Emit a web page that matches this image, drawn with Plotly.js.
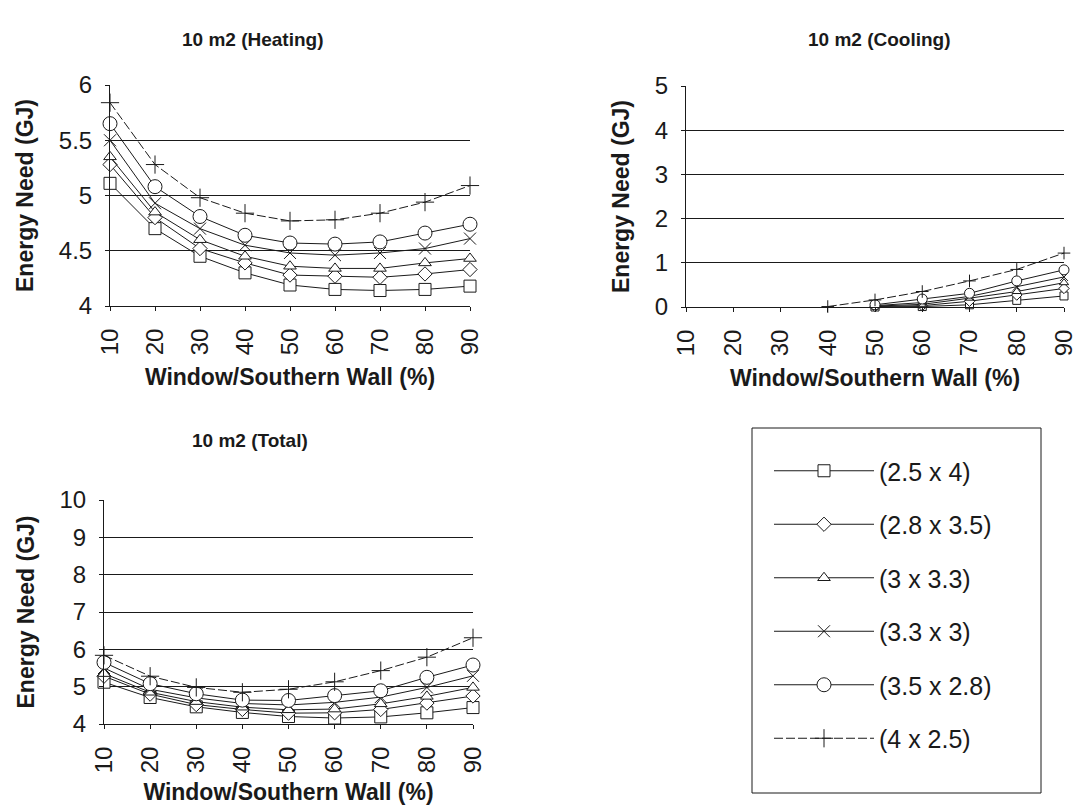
<!DOCTYPE html>
<html>
<head>
<meta charset="utf-8">
<script src="https://cdn.plot.ly/plotly-3.0.1.min.js"></script>
<style>html,body{margin:0;padding:0;background:#fff;}#chart{width:1082px;height:805px;}</style>
</head>
<body>
<div id="chart"></div>
<script>
// ---- data ----
const ratio = [10, 20, 30, 40, 50, 60, 70, 80, 90];
const seriesNames = ["(2.5 x 4)", "(2.8 x 3.5)", "(3 x 3.3)", "(3.3 x 3)", "(3.5 x 2.8)", "(4 x 2.5)"];

const heating_2_5x4 = [5.11, 4.70, 4.45, 4.30, 4.19, 4.15, 4.14, 4.15, 4.18];
const heating_2_8x3_5 = [5.28, 4.80, 4.52, 4.39, 4.28, 4.27, 4.26, 4.29, 4.33];
const heating_3x3_3 = [5.35, 4.85, 4.60, 4.45, 4.36, 4.34, 4.34, 4.39, 4.43];
const heating_3_3x3 = [5.50, 4.93, 4.70, 4.55, 4.48, 4.46, 4.48, 4.52, 4.61];
const heating_3_5x2_8 = [5.65, 5.08, 4.81, 4.64, 4.57, 4.56, 4.58, 4.66, 4.74];
const heating_4x2_5 = [5.84, 5.28, 4.98, 4.84, 4.77, 4.78, 4.84, 4.94, 5.09];

const cooling_2_5x4 = [null, null, null, null, 0, 0.01, 0.05, 0.15, 0.25];
const cooling_2_8x3_5 = [null, null, null, null, 0.01, 0.03, 0.13, 0.27, 0.42];
const cooling_3x3_3 = [null, null, null, null, 0.02, 0.06, 0.20, 0.35, 0.55];
const cooling_3_3x3 = [null, null, null, null, 0.03, 0.10, 0.24, 0.46, 0.68];
const cooling_3_5x2_8 = [null, null, null, null, 0.05, 0.18, 0.31, 0.59, 0.84];
const cooling_4x2_5 = [null, null, null, 0.01, 0.16, 0.35, 0.59, 0.85, 1.22];

const total_2_5x4 = [5.12, 4.71, 4.46, 4.31, 4.20, 4.16, 4.19, 4.30, 4.44];
const total_2_8x3_5 = [5.28, 4.80, 4.52, 4.39, 4.29, 4.30, 4.39, 4.56, 4.75];
const total_3x3_3 = [5.35, 4.85, 4.60, 4.45, 4.38, 4.40, 4.54, 4.74, 4.98];
const total_3_3x3 = [5.50, 4.93, 4.70, 4.55, 4.51, 4.58, 4.72, 4.98, 5.29];
const total_3_5x2_8 = [5.65, 5.08, 4.81, 4.64, 4.63, 4.76, 4.89, 5.25, 5.58];
const total_4x2_5 = [5.84, 5.28, 4.98, 4.85, 4.93, 5.13, 5.43, 5.79, 6.31];

const heatingSeries = [heating_2_5x4, heating_2_8x3_5, heating_3x3_3, heating_3_3x3, heating_3_5x2_8, heating_4x2_5];
const coolingSeries = [cooling_2_5x4, cooling_2_8x3_5, cooling_3x3_3, cooling_3_3x3, cooling_3_5x2_8, cooling_4x2_5];
const totalSeries = [total_2_5x4, total_2_8x3_5, total_3x3_3, total_3_3x3, total_3_5x2_8, total_4x2_5];

// ---- styles ----
const INK = "#1a1a1a";
const symbols = ["square", "diamond", "triangle-up", "x-thin", "circle", "cross-thin"];
const msize = [12, 11, 11, 12, 14, 13];
const dashes = ["solid", "solid", "solid", "solid", "solid", "9px,3px"];

function mk(i, ys, xa, ya, showleg, scale) {
  const thin = symbols[i].indexOf("thin") >= 0;
  return {
    type: "scatter", mode: "lines+markers",
    x: ratio, y: ys, xaxis: xa, yaxis: ya,
    name: seriesNames[i], legendgroup: "g" + i, showlegend: showleg,
    cliponaxis: false, connectgaps: false,
    line: {color: INK, width: 1, dash: dashes[i]},
    marker: {symbol: symbols[i], size: Math.round(msize[i] * scale), color: thin ? INK : "#ffffff",
             line: {color: INK, width: 1}}
  };
}

const traces = [];
for (let i = 0; i < 6; i++) traces.push(mk(i, heatingSeries[i], "x", "y", false, 1));
for (let i = 0; i < 6; i++) traces.push(mk(i, coolingSeries[i], "x2", "y2", false, 0.7));
for (let i = 0; i < 6; i++) traces.push(mk(i, totalSeries[i], "x3", "y3", true, 1));

const W = 1082, H = 805;
const px = (a, b) => [a / W, b / W];
const py = (top, bottom) => [1 - bottom / H, 1 - top / H];

const FAM = "Liberation Sans, Arial, sans-serif";
const tickFont = {family: FAM, size: 24, color: INK};
const axTitleFont = {family: FAM, size: 23, color: INK, weight: "bold"};

function xAxis(dom, anchor) {
  return {
    domain: dom, anchor: anchor, range: [10, 90], tickvals: ratio, ticktext: ratio.map(String),
    tickangle: -90, tickfont: tickFont, showgrid: false, zeroline: false,
    showline: true, linecolor: INK, linewidth: 1, ticks: "outside", ticklen: 4, tickcolor: INK,
    ticklabelstandoff: 8, ticklabeloverflow: "allow",
    title: {text: "Window/Southern Wall (%)", font: axTitleFont, standoff: 14},
    automargin: false, fixedrange: true
  };
}
function yAxis(dom, anchor, range, dtick) {
  return {
    domain: dom, anchor: anchor, range: range, dtick: dtick, tick0: range[0],
    tickfont: tickFont, showgrid: true, gridcolor: INK, gridwidth: 1, zeroline: false,
    showline: true, linecolor: INK, linewidth: 1, ticks: "outside", ticklen: 4, tickcolor: INK,
    ticklabelstandoff: 8, ticklabeloverflow: "allow",
    title: {text: "Energy Need (GJ)", font: axTitleFont, standoff: 18},
    automargin: false, fixedrange: true
  };
}

const titleFont = {family: FAM, size: 19, color: INK, weight: "bold"};

const layout = {
  width: W, height: H, paper_bgcolor: "#fff", plot_bgcolor: "#fff",
  margin: {l: 0, r: 0, t: 0, b: 0},
  font: {family: FAM, color: INK},
  xaxis: xAxis(px(110, 470), "y"),
  yaxis: yAxis(py(85, 306), "x", [4, 6], 0.5),
  xaxis2: xAxis(px(686, 1064), "y2"),
  yaxis2: yAxis(py(86, 307), "x2", [0, 5], 1),
  xaxis3: xAxis(px(104, 473), "y3"),
  yaxis3: yAxis(py(500, 724), "x3", [4, 10], 1),
  showlegend: true,
  legend: {
    x: 769 / W, y: 1 - 448 / H, xanchor: "left", yanchor: "top",
    borderwidth: 0, bgcolor: "rgba(0,0,0,0)",
    font: {family: FAM, size: 25, color: INK},
    traceorder: "grouped", tracegroupgap: 18, itemwidth: 100
  },
  shapes: [
    {type: "rect", xref: "paper", yref: "paper", x0: 752 / W, x1: 1041 / W, y0: 1 - 793 / H, y1: 1 - 428 / H,
     line: {color: INK, width: 1}, fillcolor: "rgba(0,0,0,0)", layer: "below"}
  ],
  annotations: [
    {text: "10 m2 (Heating)", x: 252 / W, y: 1 - 40 / H, xref: "paper", yref: "paper", xanchor: "center", yanchor: "middle", showarrow: false, font: titleFont},
    {text: "10 m2 (Cooling)", x: 879 / W, y: 1 - 40 / H, xref: "paper", yref: "paper", xanchor: "center", yanchor: "middle", showarrow: false, font: titleFont},
    {text: "10 m2 (Total)", x: 250 / W, y: 1 - 440 / H, xref: "paper", yref: "paper", xanchor: "center", yanchor: "middle", showarrow: false, font: titleFont}
  ]
};

Plotly.newPlot("chart", traces, layout, {displayModeBar: false, staticPlot: true});
</script>
</body>
</html>
